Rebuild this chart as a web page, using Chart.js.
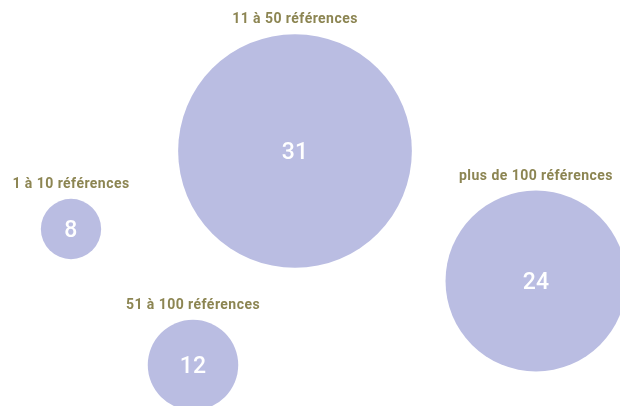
<!DOCTYPE html>
<html><head><meta charset="utf-8">
<script src="https://cdn.jsdelivr.net/npm/chart.js@4"></script>
<style>html,body{margin:0;padding:0;background:#fff}#c{display:block}</style>
</head><body>
<canvas id="c" width="620" height="406"></canvas>
<script>
const categories = ["1 à 10 références", "11 à 50 références", "51 à 100 références", "plus de 100 références"];
const values = [8, 31, 12, 24];
const posX = [71, 295, 193, 536];
const posY = [229, 151, 365, 281];

const RADIUS_PER_UNIT = 3.77;
const bubbleColor = "#babde2";
const labelColor = "#8c8552";

const labelPlugin = {
  id: "bubbleLabels",
  afterDatasetsDraw(chart) {
    const ctx = chart.ctx;
    const meta = chart.getDatasetMeta(0);
    ctx.save();
    meta.data.forEach((el, i) => {
      const r = el.options.radius;
      ctx.textAlign = "center";
      ctx.fillStyle = "#ffffff";
      ctx.letterSpacing = "0.3px";
      ctx.font = "500 23px Roboto";
      ctx.textBaseline = "middle";
      ctx.fillText(String(values[i]), el.x, el.y + 2);
      ctx.fillStyle = labelColor;
      ctx.letterSpacing = "0.45px";
      ctx.font = "bold 14px Roboto";
      ctx.textBaseline = "alphabetic";
      ctx.fillText(categories[i], el.x, el.y - r - 11);
    });
    ctx.restore();
  }
};

new Chart(document.getElementById("c"), {
  type: "bubble",
  data: {
    labels: categories,
    datasets: [{
      data: values.map((v, i) => ({ x: posX[i], y: posY[i], r: v * RADIUS_PER_UNIT })),
      backgroundColor: bubbleColor,
      borderWidth: 0,
      hoverRadius: 0,
      clip: false
    }]
  },
  options: {
    responsive: false,
    animation: false,
    layout: { padding: 0, autoPadding: false },
    plugins: { legend: { display: false }, tooltip: { enabled: false } },
    scales: {
      x: { type: "linear", min: 0, max: 620, display: false },
      y: { type: "linear", min: 0, max: 406, reverse: true, display: false }
    }
  },
  plugins: [labelPlugin]
});
</script>
</body></html>
